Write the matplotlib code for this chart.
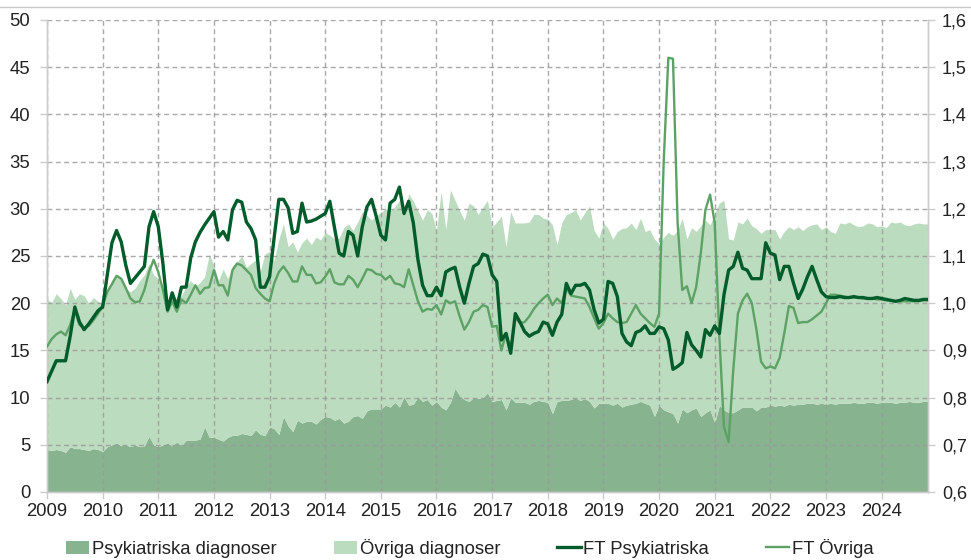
import numpy as np
import matplotlib
matplotlib.use("Agg")
import matplotlib.pyplot as plt
from matplotlib.patches import Patch
from matplotlib.lines import Line2D
from matplotlib.ticker import FuncFormatter, MultipleLocator

plt.rcParams['font.family'] = ['Liberation Sans', 'DejaVu Sans']

# Monthly data, Jan 2009 - Nov 2024
start_year = 2009
n_months = 191

psyk = [
    4.5, 4.4, 4.5, 4.4, 4.2, 4.8, 4.6, 4.6, 4.5, 4.4, 4.6, 4.5,
    4.3, 4.8, 5.0, 5.2, 4.9, 5.0, 4.8, 5.0, 4.8, 4.9, 5.9, 5.0,
    4.8, 5.0, 5.2, 4.9, 5.3, 4.9, 5.5, 5.5, 5.5, 5.6, 6.9, 5.8,
    5.8, 5.6, 5.4, 5.8, 6.0, 6.0, 6.2, 6.1, 6.0, 6.6, 6.1, 6.0,
    6.9, 6.7, 6.1, 8.0, 7.0, 6.4, 7.6, 7.3, 7.5, 7.5, 7.2, 7.7,
    8.0, 7.9, 7.6, 7.8, 7.3, 7.5, 8.0, 8.1, 7.8, 8.6, 8.8, 8.8,
    8.8, 9.2, 9.0, 9.5, 9.0, 10.1, 9.2, 9.3, 10.1, 9.6, 9.8, 9.2,
    9.6, 9.0, 8.7, 9.5, 11.0, 10.2, 9.8, 9.6, 10.0, 9.9, 10.0, 10.5,
    9.6, 9.7, 9.8, 8.7, 10.0, 9.5, 9.5, 9.5, 9.3, 9.6, 9.7, 9.6,
    9.5, 8.3, 9.6, 9.7, 9.7, 9.8, 10.0, 9.7, 9.9, 9.6, 8.9, 9.4,
    9.4, 9.4, 9.2, 9.4, 9.0, 9.2, 9.3, 9.4, 9.6, 9.4, 9.2, 8.0,
    9.2, 8.7, 8.5, 8.3, 7.3, 8.8, 8.4, 8.7, 8.9, 8.0, 8.4, 8.7,
    7.3, 9.2, 8.7, 8.4, 8.4, 8.7, 9.0, 9.0, 9.0, 8.6, 9.0, 9.0,
    9.2, 9.1, 9.2, 9.1, 9.3, 9.2, 9.3, 9.3, 9.4, 9.4, 9.3, 9.4,
    9.3, 9.4, 9.3, 9.4, 9.4, 9.4, 9.5, 9.4, 9.4, 9.5, 9.5, 9.4,
    9.5, 9.5, 9.5, 9.4, 9.5, 9.5, 9.6, 9.5, 9.5, 9.6, 9.6,
]

# Top of the stacked area (Psykiatriska + Övriga)
totalt = [
    20.4, 20.1, 21.0, 20.5, 19.8, 21.6, 20.4, 21.0, 20.8, 20.0, 20.6, 20.2,
    19.9, 21.5, 22.5, 23.0, 22.4, 21.5, 21.2, 21.6, 22.4, 23.0, 24.2, 23.0,
    22.6, 21.0, 20.0, 21.2, 20.4, 20.8, 21.8, 22.4, 21.8, 22.2, 22.8, 25.2,
    24.0, 22.4, 23.6, 22.6, 24.0, 24.4, 25.0, 23.8, 24.2, 24.6, 23.4, 25.2,
    25.5, 24.5, 26.8, 28.4, 26.0, 26.5, 25.4, 26.4, 26.9, 26.2, 27.0, 26.7,
    27.5, 27.2, 26.8, 26.9, 28.0, 28.4, 27.7, 28.6, 29.7, 29.3, 28.8, 29.3,
    29.6, 30.0, 29.8, 30.2, 30.9, 29.5, 31.6, 30.8, 29.8, 28.8, 29.9, 29.5,
    27.7, 31.8, 27.8, 32.0, 30.9, 29.8, 28.8, 30.6, 30.3, 29.4, 30.2, 30.9,
    28.1, 28.6, 29.2, 26.0, 29.7, 28.5, 28.5, 28.5, 28.6, 29.4, 29.4, 29.0,
    28.9, 28.3, 26.2, 28.5, 29.4, 29.6, 29.9, 28.8, 29.6, 30.3, 27.7, 26.9,
    28.5, 27.9, 26.8, 27.6, 27.9, 28.0, 28.5, 27.8, 29.0, 27.6, 27.8, 26.8,
    26.3, 27.0, 27.5, 27.2, 27.7, 29.0, 26.8, 28.0, 27.6, 28.2, 28.8, 28.3,
    29.5, 30.6, 30.9, 26.8, 26.7, 28.6, 28.4, 29.0, 28.2, 27.9, 27.4, 27.8,
    27.8, 27.8, 26.8, 27.6, 28.1, 27.8, 28.1, 27.7, 28.1, 28.3, 28.4, 27.8,
    28.1, 27.6, 27.4, 28.5, 28.4, 28.6, 28.3, 28.1, 28.2, 28.5, 28.4, 28.1,
    28.2, 28.0, 28.6, 28.5, 28.6, 28.3, 28.2, 28.4, 28.5, 28.4, 28.4,
]

ft_psyk = [
    0.834, 0.856, 0.878, 0.878, 0.878, 0.930, 0.992, 0.960, 0.944, 0.956, 0.970, 0.984,
    0.992, 1.060, 1.128, 1.154, 1.130, 1.080, 1.042, 1.054, 1.066, 1.078, 1.162, 1.194,
    1.162, 1.084, 0.986, 1.022, 0.992, 1.034, 1.034, 1.096, 1.130, 1.150, 1.166, 1.180,
    1.194, 1.140, 1.152, 1.134, 1.198, 1.218, 1.214, 1.172, 1.158, 1.134, 1.034, 1.034,
    1.056, 1.140, 1.220, 1.220, 1.202, 1.148, 1.152, 1.212, 1.172, 1.174, 1.178, 1.184,
    1.190, 1.216, 1.160, 1.106, 1.100, 1.152, 1.144, 1.100, 1.162, 1.204, 1.220, 1.184,
    1.144, 1.134, 1.212, 1.220, 1.246, 1.190, 1.216, 1.170, 1.092, 1.038, 1.016, 1.016,
    1.034, 1.016, 1.066, 1.072, 1.076, 1.034, 1.000, 1.042, 1.078, 1.084, 1.104, 1.100,
    1.060, 1.046, 0.922, 0.936, 0.894, 0.978, 0.960, 0.940, 0.930, 0.936, 0.940, 0.960,
    0.956, 0.932, 0.960, 0.976, 1.042, 1.020, 1.038, 1.038, 1.042, 1.028, 0.986, 0.958,
    0.966, 1.046, 1.042, 1.014, 0.936, 0.918, 0.910, 0.938, 0.942, 0.952, 0.936, 0.936,
    0.950, 0.946, 0.922, 0.860, 0.866, 0.874, 0.938, 0.912, 0.900, 0.886, 0.944, 0.932,
    0.952, 0.936, 1.018, 1.070, 1.078, 1.108, 1.074, 1.070, 1.052, 1.052, 1.052, 1.128,
    1.106, 1.102, 1.050, 1.078, 1.078, 1.042, 1.010, 1.030, 1.056, 1.078, 1.050, 1.024,
    1.014, 1.012, 1.012, 1.014, 1.012, 1.012, 1.014, 1.012, 1.012, 1.010, 1.010, 1.012,
    1.010, 1.008, 1.006, 1.004, 1.006, 1.010, 1.008, 1.006, 1.006, 1.008, 1.008,
]

ft_ovr = [
    0.908, 0.924, 0.934, 0.940, 0.932, 0.954, 0.986, 0.954, 0.948, 0.952, 0.964, 0.978,
    0.994, 1.024, 1.040, 1.058, 1.052, 1.032, 1.010, 1.002, 1.004, 1.028, 1.066, 1.092,
    1.066, 1.028, 0.982, 1.004, 0.982, 1.008, 1.000, 1.018, 1.038, 1.020, 1.032, 1.034,
    1.070, 1.038, 1.038, 1.016, 1.070, 1.084, 1.080, 1.070, 1.060, 1.032, 1.020, 1.010,
    1.004, 1.042, 1.066, 1.078, 1.064, 1.046, 1.046, 1.078, 1.060, 1.060, 1.042, 1.044,
    1.056, 1.072, 1.044, 1.040, 1.040, 1.058, 1.050, 1.034, 1.052, 1.072, 1.070, 1.062,
    1.060, 1.050, 1.058, 1.042, 1.040, 1.034, 1.072, 1.038, 1.004, 0.982, 0.988, 0.986,
    0.996, 0.976, 1.006, 1.000, 1.004, 0.972, 0.944, 0.960, 0.982, 0.986, 0.996, 0.992,
    0.950, 0.952, 0.900, 0.936, 0.904, 0.968, 0.958, 0.960, 0.972, 0.988, 1.000, 1.010,
    1.018, 0.996, 1.010, 1.000, 1.032, 1.016, 1.014, 1.012, 1.010, 0.992, 0.968, 0.946,
    0.958, 0.978, 0.968, 0.960, 0.958, 0.960, 0.978, 0.996, 0.978, 0.968, 0.958, 0.950,
    0.978, 1.300, 1.520, 1.518, 1.170, 1.028, 1.036, 1.000, 1.034, 1.106, 1.198, 1.230,
    1.170, 0.930, 0.738, 0.706, 0.858, 0.978, 1.006, 1.020, 1.000, 0.944, 0.876, 0.862,
    0.866, 0.862, 0.884, 0.936, 0.994, 0.990, 0.958, 0.960, 0.960, 0.966, 0.974, 0.982,
    1.000, 1.018, 1.018, 1.016, 1.014, 1.012, 1.012, 1.012, 1.010, 1.010, 1.010, 1.008,
    1.008, 1.006, 1.006, 1.004, 1.004, 1.004, 1.004, 1.004, 1.004, 1.006, 1.006,
]

year_ticks = list(range(2009, 2025))

labels = ["Psykiatriska diagnoser", "Övriga diagnoser", "FT Psykiatriska", "FT Övriga"]

c_dark_area = "#87b48e"
c_light_area = "#bcdcbf"
c_dark_line = "#005c2a"
c_mid_line = "#5da265"
grid_col = "#9a9a9a"
spine_col = "#cccccc"
text_col = "#222222"
fs = 13.3

x = start_year + np.arange(n_months) / 12.0

fig = plt.figure(figsize=(9.71, 5.60), dpi=100)
ax = fig.add_axes([47 / 971, 1 - 492 / 560, (928 - 47) / 971, (492 - 20) / 560])

ax.fill_between(x, 0, psyk, color=c_dark_area, linewidth=0, zorder=1)
ax.fill_between(x, psyk, totalt, color=c_light_area, linewidth=0, zorder=1)

ax.set_xlim(start_year, x[-1])
ax.set_ylim(0, 50)
ax.yaxis.set_major_locator(MultipleLocator(5))
ax.set_xticks(year_ticks)
ax.set_xticklabels([str(y) for y in year_ticks])

ax.set_axisbelow('line')
ax.grid(True, color=grid_col, linestyle=(0, (3.5, 2.5)), linewidth=1.0, alpha=0.85)

ax2 = ax.twinx()
ax2.plot(x, ft_ovr, color=c_mid_line, linewidth=1.7, zorder=3)
ax2.plot(x, ft_psyk, color=c_dark_line, linewidth=2.4, zorder=4)
ax2.set_ylim(0.6, 1.6)
ax2.yaxis.set_major_locator(MultipleLocator(0.1))
ax2.yaxis.set_major_formatter(FuncFormatter(lambda v, p: f"{v:.1f}".replace(".", ",")))

for a in (ax, ax2):
    for s in a.spines.values():
        s.set_color(spine_col)
        s.set_linewidth(1.0)
    a.spines['top'].set_visible(False)
    a.tick_params(colors=spine_col, labelcolor=text_col, labelsize=fs, length=5, width=1)

ax.tick_params(axis='y', pad=7)
ax.tick_params(axis='x', pad=3)
ax2.tick_params(axis='y', pad=5, labelsize=13)

# thin line at the very top of the figure
fig.add_artist(Line2D([0, 1], [1 - 7 / 560, 1 - 7 / 560], transform=fig.transFigure,
                      color="#c8c8c8", linewidth=1.0))

handles = [
    Patch(facecolor=c_dark_area, edgecolor='none'),
    Patch(facecolor=c_light_area, edgecolor='none'),
    Line2D([], [], color=c_dark_line, linewidth=2.4),
    Line2D([], [], color=c_mid_line, linewidth=1.7),
]
fig.legend(handles, labels, loc='center', bbox_to_anchor=(0.484, 0.021), ncol=4,
           frameon=False, fontsize=fs, handlelength=1.25, handleheight=0.75,
           handletextpad=0.15, columnspacing=3.1, labelcolor=text_col)

fig.savefig("out.png", dpi=100)
